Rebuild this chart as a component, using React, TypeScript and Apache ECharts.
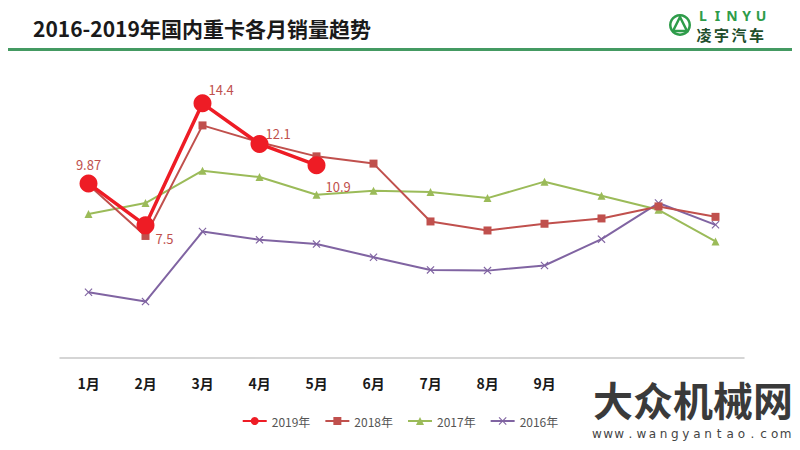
import React, { useEffect, useRef } from "react";
import * as echarts from "echarts";

const months = ["1月", "2月", "3月", "4月", "5月", "6月", "7月", "8月", "9月", "10月", "11月", "12月"];
const s2019 = [9.87, 7.5, 14.4, 12.1, 10.9];
const s2018 = [9.8, 6.9, 13.15, 12.2, 11.4, 10.99, 7.72, 7.21, 7.59, 7.89, 8.57, 7.98];
const s2017 = [8.14, 8.76, 10.59, 10.23, 9.23, 9.46, 9.38, 9.04, 9.97, 9.17, 8.38, 6.59];
const s2016 = [3.72, 3.19, 7.15, 6.68, 6.44, 5.7, 4.98, 4.94, 5.23, 6.72, 8.76, 7.53];
const seriesNames = ["2019年", "2018年", "2017年", "2016年"];
const titleText = "2016-2019年国内重卡各月销量趋势";
const brandLatin = "LINYU";
const brandCn = "凌宇汽车";
const watermarkCn = "大众机械网";
const watermarkUrl = "www.wangyantao.com";
// labels of the last three months are covered by the watermark in the reference
const visibleLabelCount = 9;

const labelOffsets: Array<{ position: any; offset: number[] }> = [
  { position: "top", offset: [0, 2] },
  { position: "right", offset: [-4, 13] },
  { position: "right", offset: [-8, -14] },
  { position: "right", offset: [-8, -10] },
  { position: "right", offset: [-5, 21] },
];

const crossPath =
  "path://M0,1 L1,0 L5,4 L9,0 L10,1 L6,5 L10,9 L9,10 L5,6 L1,10 L0,9 L4,5 Z";

function spaced(text: string, x0: number, step: number, top: number, style: any, z = 10) {
  return text.split("").map((ch, i) => ({
    type: "text",
    x: x0 + i * step,
    y: top,
    z,
    style: { ...style, text: ch, align: "center", verticalAlign: "middle" },
  }));
}

export default function App() {
  const ref = useRef<HTMLDivElement>(null);
  useEffect(() => {
    if (!ref.current) return;
    const chart = echarts.init(ref.current, undefined, { renderer: "svg" });
    const font = "'Noto Sans CJK SC', 'Noto Sans', sans-serif";
    chart.setOption({
      animation: false,
      backgroundColor: "#ffffff",
      textStyle: { fontFamily: font },
      grid: { left: 60, right: 56, top: 75, bottom: 92 },
      xAxis: {
        type: "category",
        data: months,
        boundaryGap: true,
        axisLine: { lineStyle: { color: "#c8c8c8", width: 1.5 } },
        axisTick: { show: false },
        axisLabel: {
          color: "#1a1a1a",
          fontSize: 14,
          fontWeight: "bold",
          margin: 18,
          interval: (i: number) => i < visibleLabelCount,
        },
      },
      yAxis: {
        type: "value",
        min: 0,
        max: 16,
        show: false,
        splitLine: { show: false },
      },
      legend: {
        data: seriesNames,
        bottom: 18,
        left: "center",
        itemWidth: 24,
        itemHeight: 10,
        itemGap: 14,
        textStyle: { color: "#555", fontSize: 12 },
      },
      series: [
        {
          name: seriesNames[3],
          type: "line",
          data: s2016,
          color: "#8064a2",
          symbol: crossPath,
          symbolSize: 8,
          lineStyle: { width: 2, color: "#8064a2" },
          z: 2,
        },
        {
          name: seriesNames[2],
          type: "line",
          data: s2017,
          color: "#9bbb59",
          symbol: "triangle",
          symbolSize: 8,
          lineStyle: { width: 2, color: "#9bbb59" },
          z: 3,
        },
        {
          name: seriesNames[1],
          type: "line",
          data: s2018,
          color: "#c0504d",
          symbol: "rect",
          symbolSize: 8,
          lineStyle: { width: 2, color: "#c0504d" },
          z: 4,
        },
        {
          name: seriesNames[0],
          type: "line",
          data: s2019.map((v, i) => ({
            value: v,
            label: {
              show: true,
              position: labelOffsets[i].position,
              offset: labelOffsets[i].offset,
              color: "#c0504d",
              fontSize: 13,
              formatter: String(v),
            },
          })),
          color: "#ee1c25",
          symbol: "circle",
          symbolSize: 18,
          lineStyle: { width: 3.5, color: "#ee1c25" },
          z: 5,
        },
      ],
      graphic: [
        {
          type: "text",
          left: 33,
          top: 17,
          style: { text: titleText, fontSize: 21, fontWeight: "bold", fill: "#1a1a1a", fontFamily: font },
        },
        {
          type: "rect",
          shape: { x: 0, y: 48, width: 800, height: 3 },
          style: { fill: "#449a62" },
        },
        {
          type: "ring",
          shape: { cx: 680, cy: 25, r: 11, r0: 8.5 },
          style: { fill: "#2e9c4a" },
        },
        {
          type: "polyline",
          shape: { points: [[673, 31], [680, 17], [687, 31], [674, 31]] },
          style: { stroke: "#2e9c4a", lineWidth: 2.5, fill: "none" },
        },
        ...spaced(brandLatin, 703, 14.5, 15, {
          fontSize: 14,
          lineHeight: 14,
          fontWeight: "bold",
          fill: "#2e9c4a",
          fontFamily: "'Noto Sans', sans-serif",
        }),
        ...spaced(brandCn, 704, 17.5, 34.5, {
          fontSize: 15,
          lineHeight: 15,
          fontWeight: "bold",
          fill: "#1e4d2b",
          fontFamily: font,
        }),
        ...spaced(watermarkCn, 613, 40, 399, {
          fontSize: 40,
          lineHeight: 40,
          fontWeight: "bold",
          fill: "#3a3a3a",
          fontFamily: font,
        }),
        ...spaced(watermarkUrl, 597, 11.1, 434, {
          fontSize: 12,
          lineHeight: 12,
          fill: "#444444",
          fontFamily: "'DejaVu Sans', sans-serif",
        }),
      ],
    });
    return () => chart.dispose();
  }, []);
  return <div ref={ref} style={{ width: 800, height: 450, margin: -8 }} />;
}
